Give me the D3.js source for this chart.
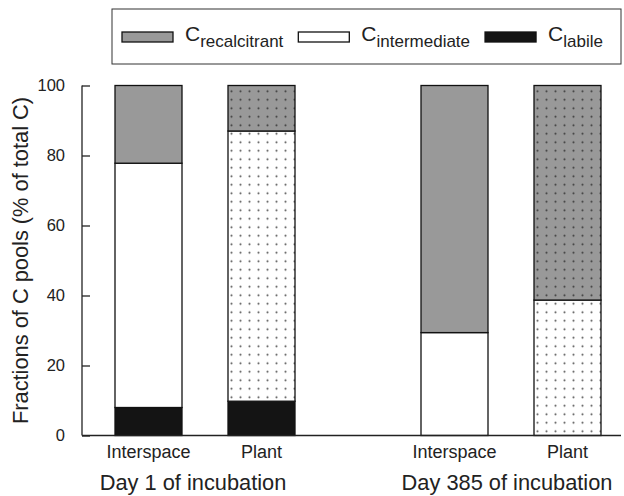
<!DOCTYPE html>
<html>
<head>
<meta charset="utf-8">
<script src="https://cdn.jsdelivr.net/npm/d3@7"></script>
<style>
  body { margin: 0; background: #fff; }
  svg { font-family: "Liberation Sans", Arial, sans-serif; fill: #222; }
</style>
</head>
<body>
<svg id="chart" width="624" height="496"></svg>
<script>
const days = ['Day 1 of incubation', 'Day 385 of incubation'];
const sites = ['Interspace', 'Plant'];
const pools = ['labile', 'intermediate', 'recalcitrant'];
// values per day, per site (order matches sites)
const labile = [[8, 9.8], [0, 0]];
const intermediate = [[69.8, 77.2], [29.4, 38.7]];
const recalcitrant = [[22.2, 13], [70.6, 61.3]];
const yTicks = [0, 20, 40, 60, 80, 100];

const svg = d3.select('#chart');

const y = d3.scaleLinear().domain([0, 100]).range([435.5, 85.5]);
const xDay = d3.scalePoint().domain(days).range([205, 511]);
const xSite = d3.scalePoint().domain(sites).range([-56.5, 56.5]);
const barW = 67;

const fills = { recalcitrant: '#999999', intermediate: '#ffffff', labile: '#141414' };

// dotted pattern for the plant bars
const defs = svg.append('defs');
['recalcitrant', 'intermediate'].forEach(p => {
  const pat = defs.append('pattern')
    .attr('id', 'dots-' + p)
    .attr('patternUnits', 'userSpaceOnUse')
    .attr('x', 2).attr('y', 2)
    .attr('width', 9).attr('height', 8.5);
  pat.append('rect').attr('width', 9).attr('height', 8.5).attr('fill', fills[p]);
  pat.append('circle').attr('cx', 4.5).attr('cy', 4.25).attr('r', 1.05)
    .attr('fill', p === 'recalcitrant' ? '#3a3a3a' : '#555');
});

// build stacked rows
const rows = [];
days.forEach((d, di) => {
  sites.forEach((s, si) => {
    rows.push({
      day: d, site: s,
      labile: labile[di][si],
      intermediate: intermediate[di][si],
      recalcitrant: recalcitrant[di][si]
    });
  });
});
const stacked = d3.stack().keys(pools)(rows);

const barX = d => xDay(d.data.day) + xSite(d.data.site) - barW / 2;

stacked.forEach(layer => {
  svg.append('g').selectAll('rect')
    .data(layer.filter(d => d[1] - d[0] > 0))
    .join('rect')
    .attr('x', barX)
    .attr('y', d => y(d[1]))
    .attr('width', barW)
    .attr('height', d => y(d[0]) - y(d[1]))
    .attr('fill', d => (d.data.site === 'Plant' && layer.key !== 'labile')
      ? `url(#dots-${layer.key})` : fills[layer.key])
    .attr('stroke', '#111')
    .attr('stroke-width', 1.3);
});

// y axis
const yAxis = d3.axisLeft(y).tickValues(yTicks).tickSize(-8).tickPadding(17);
const gy = svg.append('g').attr('transform', 'translate(82,0)').call(yAxis);
gy.select('.domain').attr('stroke', '#222').attr('stroke-width', 1.3).attr('d', `M0,${y(0)}V${y(100)}`);
gy.selectAll('.tick line').attr('stroke', '#222').attr('stroke-width', 1.3);
gy.selectAll('.tick text').attr('font-size', 16.5).attr('fill', '#222')
  .attr('font-family', '"Liberation Sans", Arial, sans-serif');

// x baseline
svg.append('line')
  .attr('x1', 82).attr('x2', 621)
  .attr('y1', y(0)).attr('y2', y(0))
  .attr('stroke', '#222').attr('stroke-width', 1.3);

// site labels
days.forEach(d => {
  sites.forEach(s => {
    svg.append('text')
      .attr('x', xDay(d) + xSite(s))
      .attr('y', 458)
      .attr('text-anchor', 'middle')
      .attr('font-size', 18)
      .text(s);
  });
});

// day labels
svg.selectAll('.day-label')
  .data(days)
  .join('text')
  .attr('class', 'day-label')
  .attr('x', (d, i) => xDay(d) + (i === 0 ? -12 : -4))
  .attr('y', 490)
  .attr('text-anchor', 'middle')
  .attr('font-size', 21.8)
  .text(d => d);

// y title
svg.append('text')
  .attr('transform', `translate(28,${(y(0) + y(100)) / 2}) rotate(-90)`)
  .attr('text-anchor', 'middle')
  .attr('font-size', 21.8)
  .text('Fractions of C pools (% of total C)');

// legend
const legend = svg.append('g');
legend.append('rect')
  .attr('x', 112).attr('y', 9).attr('width', 509).attr('height', 55)
  .attr('fill', 'none').attr('stroke', '#333').attr('stroke-width', 1);

const legendItems = ['recalcitrant', 'intermediate', 'labile'];
let lx = 122;
legendItems.forEach(k => {
  legend.append('rect')
    .attr('x', lx).attr('y', 32).attr('width', 51).attr('height', 10)
    .attr('fill', fills[k]).attr('stroke', '#111').attr('stroke-width', 1.3);
  const t = legend.append('text')
    .attr('x', lx + 63).attr('y', 41)
    .attr('font-size', 21);
  t.append('tspan').text('C');
  t.append('tspan').attr('font-size', 17).attr('dy', 6).text(k);
  lx = lx + 63 + t.node().getComputedTextLength() + 15;
});
</script>
</body>
</html>
